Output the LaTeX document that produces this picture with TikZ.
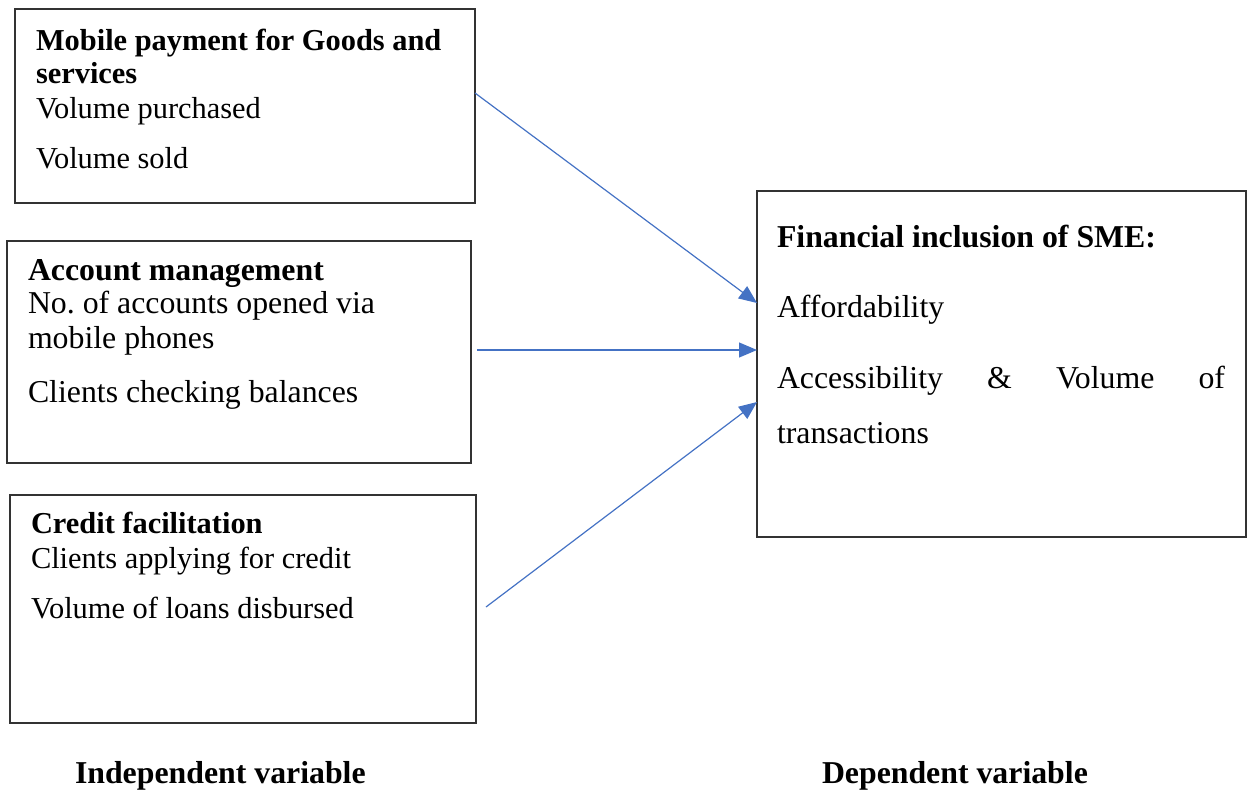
\documentclass[tikz,border=0pt]{standalone}
\usepackage{fontspec}
\setmainfont{Liberation Serif}
\usetikzlibrary{arrows.meta}
\definecolor{arrowblue}{HTML}{4472C4}
\definecolor{boxline}{HTML}{333333}
\frenchspacing
\begin{document}
\begin{tikzpicture}[x=1pt,y=-1pt,
  box/.style={draw=boxline,line width=1.2pt,inner sep=0pt,outer sep=0pt,anchor=north west},
  txt/.style={anchor=base west,inner sep=0pt,outer sep=0pt},
  smalltxt/.style={txt,font=\fontsize{30.4}{36}\selectfont},
  largetxt/.style={txt,font=\fontsize{31.8}{38}\selectfont},
  arr/.style={draw=arrowblue,line width=1.2pt,-{Triangle[length=18pt,width=15pt]}}]
\useasboundingbox (0,0) rectangle (1248,790);

% independent variable boxes
\node[box,minimum width=460pt,minimum height=194pt] (b1) at (15,9) {};
\node[box,minimum width=464pt,minimum height=222pt] (b2) at (7,241) {};
\node[box,minimum width=466pt,minimum height=228pt] (b3) at (10,495) {};
% dependent variable box
\node[box,minimum width=489pt,minimum height=346pt] (b4) at (757,191) {};

% box 1 text
\node[smalltxt,font=\fontsize{30.4}{36}\selectfont\bfseries] (t11) at (36,50) {Mobile payment for Goods and};
\node[smalltxt,font=\fontsize{30.4}{36}\selectfont\bfseries] (t12) at (36,83) {services};
\node[smalltxt] (t13) at (36,118) {Volume purchased};
\node[smalltxt] (t14) at (36,168) {Volume sold};

% box 2 text
\node[largetxt,font=\fontsize{31.8}{38}\selectfont\bfseries] (t21) at (28,280) {Account management};
\node[largetxt] (t22) at (28,313) {No. of accounts opened via};
\node[largetxt] (t23) at (28,348) {mobile phones};
\node[largetxt] (t24) at (28,402) {Clients checking balances};

% box 3 text
\node[smalltxt,font=\fontsize{30.4}{36}\selectfont\bfseries] (t31) at (31,533) {Credit facilitation};
\node[smalltxt] (t32) at (31,568) {Clients applying for credit};
\node[smalltxt] (t33) at (31,618) {Volume of loans disbursed};

% box 4 text
\node[largetxt,font=\fontsize{31.8}{38}\selectfont\bfseries] (t41) at (777,247) {Financial inclusion of SME:};
\node[largetxt] (t42) at (777,317) {Affordability};
\node[largetxt] (t43) at (777,388) {\hbox to 448pt{Accessibility\hfill\&\hfill Volume\hfill of}};
\node[largetxt] (t44) at (777,443) {transactions};

% captions
\node[largetxt,font=\fontsize{31.8}{38}\selectfont\bfseries] (c1) at (75,783) {Independent variable};
\node[largetxt,font=\fontsize{31.8}{38}\selectfont\bfseries] (c2) at (822,783) {Dependent variable};

% connectors
\coordinate (s1) at (475,93);
\coordinate (s2) at (477,350);
\coordinate (s3) at (486,607);
\coordinate (e1) at (757,303);
\coordinate (e2) at (757,350);
\coordinate (e3) at (757,402);
\draw[arr] (s1) -- (e1);
\draw[arr] (s2) -- (e2);
\draw[arr] (s3) -- (e3);
\end{tikzpicture}
\end{document}
